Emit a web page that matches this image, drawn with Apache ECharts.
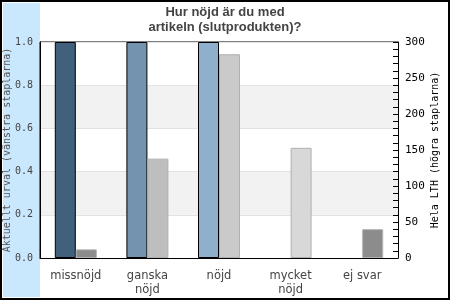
<!DOCTYPE html>
<html><head><meta charset="utf-8">
<script src="https://cdn.jsdelivr.net/npm/echarts@6/dist/echarts.min.js"></script>
<style>html,body{margin:0;padding:0;background:#fff}#c{width:450px;height:300px}</style>
</head><body><div id="c"></div>
<script>
const categories = ['missnöjd', 'ganska\nnöjd', 'nöjd', 'mycket\nnöjd', 'ej svar'];
const leftValues = [1.0, 1.0, 1.0, 0, 0];
const rightValues = [12, 138, 283, 153, 40];
const leftColors = ['#41607c', '#7393ae', '#8fb0cc', '#a9c5dd', '#c0d6e8'];
const rightColors = ['#8c8c8c', '#bebebe', '#cacaca', '#d8d8d8', '#8c8c8c'];
const leftTicks = [0, 0.2, 0.4, 0.6, 0.8, 1.0];
const rightTicks = [0, 50, 100, 150, 200, 250, 300];
const titleText = 'Hur nöjd är du med\nartikeln (slutprodukten)?';
const leftName = 'Aktuellt urval (vänstra staplarna)';
const rightName = 'Hela LTH (högra staplarna)';

const chart = echarts.init(document.getElementById('c'), null, {renderer: 'canvas'});
const mono = 'DejaVu Sans Mono';
chart.setOption({
  animation: false,
  backgroundColor: '#fff',
  graphic: [
    {type: 'rect', z: -10, shape: {x: 3, y: 3, width: 37, height: 294}, style: {fill: '#c9e7fd'}},
    {type: 'rect', z: 100, shape: {x: 1, y: 1, width: 448, height: 298}, style: {fill: 'none', stroke: '#000', lineWidth: 2}}
  ],
  title: {
    text: titleText, left: 'center', top: 0, itemGap: 0,
    textStyle: {fontFamily: 'Liberation Sans', fontWeight: 'bold', fontSize: 13, color: '#444', lineHeight: 15}
  },
  grid: {left: 40, right: 52, top: 42, bottom: 42, containLabel: false, outerBoundsMode: 'none',
    show: true, borderColor: '#000', borderWidth: 1, backgroundColor: 'transparent'},
  xAxis: {
    type: 'category', data: categories,
    axisLine: {lineStyle: {color: '#000'}},
    axisTick: {show: false},
    axisLabel: {interval: 0, fontFamily: 'DejaVu Sans', fontSize: 11.5, color: '#444', margin: 11, lineHeight: 14}
  },
  yAxis: [
    {
      type: 'value', min: leftTicks[0], max: leftTicks[leftTicks.length - 1], interval: 0.2,
      name: leftName, nameLocation: 'middle', nameRotate: 90, nameGap: 28, nameMoveOverlap: false,
      nameTextStyle: {fontFamily: mono, fontSize: 10, color: '#555'},
      axisLine: {show: true, lineStyle: {color: '#000'}},
      axisTick: {show: false},
      axisLabel: {fontFamily: mono, fontSize: 10, color: '#444', margin: 7, formatter: v => v.toFixed(1)},
      splitLine: {show: true, lineStyle: {color: '#e2e2e2'}},
      splitArea: {show: true, areaStyle: {color: ['#ffffff', '#f2f2f2']}}
    },
    {
      type: 'value', min: rightTicks[0], max: rightTicks[rightTicks.length - 1], interval: 50,
      position: 'right',
      name: rightName, nameLocation: 'middle', nameRotate: 90, nameGap: 32, nameMoveOverlap: false,
      nameTextStyle: {fontFamily: mono, fontSize: 10, color: '#000'},
      axisLine: {show: true, lineStyle: {color: '#000'}},
      axisTick: {show: true, inside: true, length: 5, lineStyle: {color: '#000'}},
      minorTick: {show: true, splitNumber: 5, length: 5, lineStyle: {color: '#000'}},
      axisLabel: {fontFamily: mono, fontSize: 11, color: '#000', margin: 7},
      splitLine: {show: false}
    }
  ],
  series: [
    {
      type: 'bar', yAxisIndex: 0, barWidth: 21, barGap: '0%',
      data: leftValues.map((v, i) => ({value: v, itemStyle: {color: leftColors[i], borderWidth: v ? 1 : 0}})),
      itemStyle: {borderColor: '#000', borderWidth: 1}
    },
    {
      type: 'bar', yAxisIndex: 1, barWidth: 21, barGap: '0%',
      data: rightValues.map((v, i) => ({value: v, itemStyle: {color: rightColors[i]}})),
      itemStyle: {borderColor: '#b0b0b0', borderWidth: 1}
    }
  ]
});
</script></body></html>
